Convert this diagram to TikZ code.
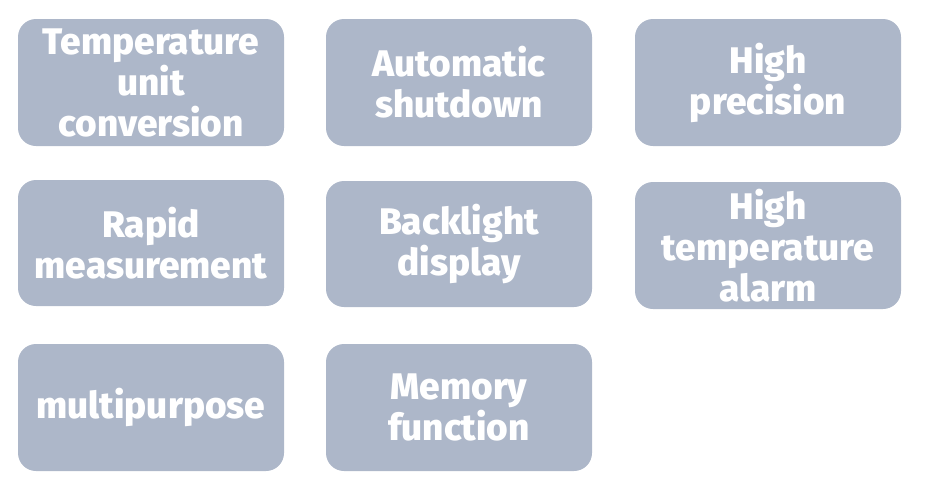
\documentclass[tikz,border=0pt]{standalone}
\usepackage{fontspec}
\setmainfont{Fira Sans}[UprightFont=* ExtraBold]
\definecolor{boxfill}{HTML}{ADB7C9}
\begin{document}
\begin{tikzpicture}[x=1pt,y=-1pt,
  feat/.style={fill=boxfill,draw=none,rounded corners=18pt,
    minimum width=266pt,minimum height=127pt,inner sep=0pt},
  lbl/.style={text=white,font=\fontsize{37}{41}\selectfont,align=center,
    inner sep=0pt}]
\useasboundingbox (0,0) rectangle (925,496);
\node[feat] (a) at (151,82.5) {};
\node[feat] (b) at (459,82.5) {};
\node[feat] (c) at (768,82.5) {};
\node[feat,minimum height=126pt] (d) at (151,243) {};
\node[feat,minimum height=126pt] (e) at (459,244) {};
\node[feat] (f) at (768,245.5) {};
\node[feat] (g) at (151,407.5) {};
\node[feat] (h) at (459,407.5) {};
\node[lbl] (ta) at (a) {Temperature\\unit\\conversion};
\node[lbl] (tb) at (b) {Automatic\\shutdown};
\node[lbl] (tc) at (c) {High\\precision};
\node[lbl] (td) at (d) {Rapid\\measurement};
\node[lbl] (te) at (e) {Backlight\\display};
\node[lbl] (tf) at (f) {High\\temperature\\alarm};
\node[lbl] (tg) at (g) {multipurpose};
\node[lbl] (th) at (h) {Memory\\function};
\end{tikzpicture}
\end{document}
